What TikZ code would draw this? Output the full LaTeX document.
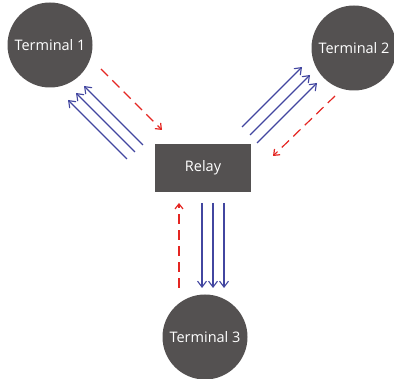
\documentclass[tikz,border=0pt]{standalone}
\usepackage{fontspec}
\setmainfont{Open Sans}
\usetikzlibrary{arrows.meta}
\definecolor{termgray}{RGB}{84,81,81}
\definecolor{sigblue}{RGB}{66,70,160}
\definecolor{ackred}{RGB}{228,38,34}

\begin{document}
\begin{tikzpicture}[x=1pt,y=-1pt,
    terminal/.style={circle,fill=termgray,text=white,minimum size=85pt,inner sep=0pt,font=\fontsize{14.5}{16}\selectfont},
    relaybox/.style={rectangle,fill=termgray,text=white,minimum width=96pt,minimum height=48pt,inner sep=0pt,font=\fontsize{14.5}{16}\selectfont},
    data/.style={draw=sigblue,line width=1.1pt,-{Straight Barb[length=6pt,width=9pt]}},
    ack/.style={draw=ackred,line width=1.2pt,dash pattern=on 10pt off 6pt,-{Straight Barb[length=5pt,width=8pt]}}]

    \useasboundingbox (0,0) rectangle (394,379);

    % terminals and relay
    \node[terminal] (term1) at (50,45) {Terminal 1};
    \node[terminal] (term2) at (354,48) {Terminal 2};
    \node[terminal] (term3) at (205,337) {Terminal 3};
    \node[relaybox] (relay) at (203,168) {Relay};

    % ends of the parallel arrows
    \coordinate (r1a) at (127,159); \coordinate (t1a) at (68,100);
    \coordinate (r1b) at (135,152); \coordinate (t1b) at (76,93);
    \coordinate (r1c) at (143,145); \coordinate (t1c) at (84,86);
    \coordinate (t1d) at (101,69);  \coordinate (r1d) at (162,130);

    \coordinate (r2a) at (242,127); \coordinate (t2a) at (302,67);
    \coordinate (r2b) at (250,135); \coordinate (t2b) at (310,75);
    \coordinate (r2c) at (257,143); \coordinate (t2c) at (317,83);
    \coordinate (t2d) at (335,96);  \coordinate (r2d) at (273,156);

    \coordinate (r3a) at (202,203); \coordinate (t3a) at (202,288);
    \coordinate (r3b) at (213,203); \coordinate (t3b) at (213,288);
    \coordinate (r3c) at (224,203); \coordinate (t3c) at (224,288);
    \coordinate (t3d) at (179,288); \coordinate (r3d) at (179,203);

    % relay -> terminal 1
    \draw[data] (r1a) -- (t1a);
    \draw[data] (r1b) -- (t1b);
    \draw[data] (r1c) -- (t1c);
    \draw[ack] (t1d) -- (r1d);

    % relay -> terminal 2
    \draw[data] (r2a) -- (t2a);
    \draw[data] (r2b) -- (t2b);
    \draw[data] (r2c) -- (t2c);
    \draw[ack] (t2d) -- (r2d);

    % relay -> terminal 3
    \draw[data] (r3a) -- (t3a);
    \draw[data] (r3b) -- (t3b);
    \draw[data] (r3c) -- (t3c);
    \draw[ack] (t3d) -- (r3d);

\end{tikzpicture}
\end{document}
